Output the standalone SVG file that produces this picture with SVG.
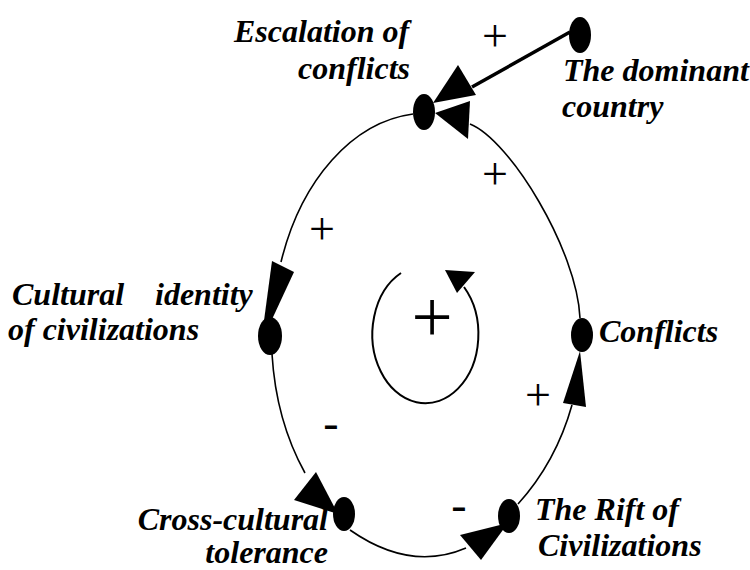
<svg xmlns="http://www.w3.org/2000/svg" width="750" height="570" viewBox="0 0 750 570">
<style>
.link{fill:none;stroke:#000;stroke-width:1.6}
.head{fill:#000;stroke:none}
.node{fill:#000}
</style>
<rect width="750" height="570" fill="#fff"/>
<g id="connectors">
  <path class="link" d="M413,114 A155,222 0 0 0 281,262"/>
  <polygon class="head" points="272,261 294,272 261,343"/>
  <path class="link" d="M272,354 A155,222 0 0 0 305,473"/>
  <polygon class="head" points="316,472 294,500 338,514"/>
  <path class="link" d="M350,530 Q410,572 466,548"/>
  <polygon class="head" points="460,535 481,560 508,523"/>
  <path class="link" d="M518,504 Q556,462 572,405"/>
  <polygon class="head" points="563,403 586,407 580,351"/>
  <path class="link" d="M580,318 C577,250 510,140 470,124"/>
  <polygon class="head" points="470,101 468,139 435,113"/>
  <line x1="570" y1="32" x2="472" y2="87" stroke="#000" stroke-width="3.5"/>
  <polygon class="head" points="458,65 476,95 433,103"/>
  <path class="link" d="M401,273 A53,69 0 1 0 464,287" style="stroke-width:2"/>
  <polygon class="head" points="445,270 475,272 457,293"/>
</g>
<g id="node-escalation">
  <ellipse class="node" cx="424" cy="112" rx="11" ry="18"/>
  <text x="234" y="42" font-family="'Liberation Serif'" font-weight="bold" font-style="italic" font-size="32">Escalation of</text>
  <text x="298" y="79" font-family="'Liberation Serif'" font-weight="bold" font-style="italic" font-size="32">conflicts</text>
</g>
<g id="node-dominant">
  <ellipse class="node" cx="580" cy="35" rx="11" ry="18"/>
  <text x="563" y="81" font-family="'Liberation Serif'" font-weight="bold" font-style="italic" font-size="32">The dominant</text>
  <text x="562" y="117" font-family="'Liberation Serif'" font-weight="bold" font-style="italic" font-size="32">country</text>
</g>
<g id="node-cultural">
  <ellipse class="node" cx="270" cy="336" rx="12" ry="19"/>
  <text x="12" y="305" font-family="'Liberation Serif'" font-weight="bold" font-style="italic" font-size="32">Cultural</text>
  <text x="155" y="305" font-family="'Liberation Serif'" font-weight="bold" font-style="italic" font-size="32">identity</text>
  <text x="8" y="340" font-family="'Liberation Serif'" font-weight="bold" font-style="italic" font-size="32">of civilizations</text>
</g>
<g id="node-conflicts">
  <ellipse class="node" cx="582" cy="335" rx="11" ry="17"/>
  <text x="599" y="342" font-family="'Liberation Serif'" font-weight="bold" font-style="italic" font-size="32">Conflicts</text>
</g>
<g id="node-cross">
  <ellipse class="node" cx="344" cy="514" rx="11" ry="17"/>
  <text x="328" y="530" text-anchor="end" font-family="'Liberation Serif'" font-weight="bold" font-style="italic" font-size="32">Cross-cultural</text>
  <text x="328" y="563" text-anchor="end" font-family="'Liberation Serif'" font-weight="bold" font-style="italic" font-size="32">tolerance</text>
</g>
<g id="node-rift">
  <ellipse class="node" cx="509" cy="516" rx="11" ry="17"/>
  <text x="535" y="520" font-family="'Liberation Serif'" font-weight="bold" font-style="italic" font-size="32">The Rift of</text>
  <text x="538" y="556" font-family="'Liberation Serif'" font-weight="bold" font-style="italic" font-size="32">Civilizations</text>
</g>
<g id="signs">
  <text x="495" y="51" font-family="Liberation Serif" font-size="46" text-anchor="middle">+</text>
  <text x="495" y="189" font-family="Liberation Serif" font-size="46" text-anchor="middle">+</text>
  <text x="322" y="244" font-family="Liberation Serif" font-size="46" text-anchor="middle">+</text>
  <text x="538" y="410" font-family="Liberation Serif" font-size="46" text-anchor="middle">+</text>
  <text x="331" y="438" font-family="Liberation Serif" font-size="46" text-anchor="middle">-</text>
  <text x="459" y="520" font-family="Liberation Serif" font-size="46" text-anchor="middle">-</text>
  <text x="432" y="342" font-family="Liberation Serif" font-size="73" text-anchor="middle">+</text>
</g>
</svg>
